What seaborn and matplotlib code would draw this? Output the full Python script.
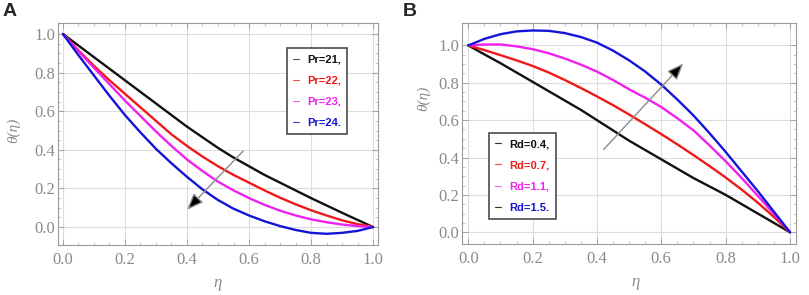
import numpy as np
import pandas as pd
import matplotlib
matplotlib.use("Agg")
import matplotlib.pyplot as plt
import seaborn as sns
from matplotlib.lines import Line2D

# ---------------- data ----------------
eta = [0.00, 0.05, 0.10, 0.15, 0.20, 0.25, 0.30, 0.35, 0.40, 0.45, 0.50,
       0.55, 0.60, 0.65, 0.70, 0.75, 0.80, 0.85, 0.90, 0.95, 1.00]

# Panel A : Pr variation
pr_labels = ["Pr=21,", "Pr=22,", "Pr=23,", "Pr=24."]
pr21 = [1.0, 0.94, 0.88, 0.82, 0.76, 0.70, 0.64, 0.58, 0.52, 0.465, 0.41,
        0.36, 0.315, 0.27, 0.23, 0.19, 0.15, 0.112, 0.074, 0.037, 0.0]
pr22 = [1.0, 0.915, 0.835, 0.76, 0.69, 0.62, 0.55, 0.48, 0.42, 0.365, 0.315,
        0.27, 0.23, 0.19, 0.152, 0.118, 0.087, 0.06, 0.035, 0.015, 0.0]
pr23 = [1.0, 0.91, 0.825, 0.74, 0.655, 0.575, 0.495, 0.42, 0.35, 0.29, 0.235,
        0.19, 0.15, 0.115, 0.085, 0.06, 0.04, 0.025, 0.013, 0.005, 0.0]
pr24 = [1.0, 0.89, 0.785, 0.68, 0.58, 0.49, 0.405, 0.33, 0.26, 0.195, 0.14,
        0.095, 0.06, 0.03, 0.005, -0.015, -0.03, -0.035, -0.03, -0.02, 0.0]

# Panel B : Rd variation
rd_labels = ["Rd=0.4,", "Rd=0.7,", "Rd=1.1,", "Rd=1.5."]
rd04 = [1.0, 0.952, 0.905, 0.855, 0.805, 0.755, 0.705, 0.655, 0.60, 0.545, 0.49,
        0.44, 0.39, 0.34, 0.29, 0.245, 0.20, 0.15, 0.10, 0.05, 0.0]
rd07 = [1.0, 0.975, 0.948, 0.92, 0.89, 0.855, 0.815, 0.772, 0.727, 0.68, 0.63,
        0.578, 0.525, 0.47, 0.413, 0.354, 0.293, 0.228, 0.158, 0.082, 0.0]
rd11 = [1.0, 1.005, 1.005, 0.995, 0.98, 0.958, 0.93, 0.897, 0.86, 0.815, 0.765,
        0.72, 0.67, 0.61, 0.545, 0.465, 0.38, 0.29, 0.195, 0.098, 0.0]
rd15 = [1.0, 1.035, 1.06, 1.075, 1.08, 1.078, 1.066, 1.045, 1.015, 0.972, 0.92,
        0.86, 0.79, 0.71, 0.625, 0.53, 0.43, 0.325, 0.22, 0.11, 0.0]

ticks = [0.0, 0.2, 0.4, 0.6, 0.8, 1.0]
tick_labels = ["0.0", "0.2", "0.4", "0.6", "0.8", "1.0"]

# ---------------- style ----------------
sns.set_style("whitegrid", {
    "grid.color": "#dcdcdc",
    "axes.edgecolor": "#9a9a9a",
    "xtick.direction": "in",
    "ytick.direction": "in",
})
plt.rcParams["font.family"] = ["Liberation Serif", "DejaVu Serif"]

colors = ["#111111", "#f01818", "#f020f0", "#1414d8"]
tick_gray = "#8a8a8a"

fig = plt.figure(figsize=(8.09, 2.95), dpi=100)
axA = fig.add_axes([58 / 809, 1 - 245 / 295, 320 / 809, 222 / 295])
axB = fig.add_axes([461.7 / 809, 1 - 244 / 295, 334.3 / 809, 221 / 295])


def build(series, labels):
    frames = []
    for s, l in zip(series, labels):
        frames.append(pd.DataFrame({"eta": eta, "theta": s, "lab": l}))
    return pd.concat(frames, ignore_index=True)


dfA = build([pr21, pr22, pr23, pr24], pr_labels)
dfB = build([rd04, rd07, rd11, rd15], rd_labels)

for ax, df, labels in [(axA, dfA, pr_labels), (axB, dfB, rd_labels)]:
    sns.lineplot(data=df, x="eta", y="theta", hue="lab", hue_order=labels,
                 palette=colors, linewidth=1.7, legend=False, ax=ax,
                 sort=False)
    ax.set_xticks(ticks)
    ax.set_xticklabels(tick_labels)
    ax.set_yticks(ticks)
    ax.set_yticklabels(tick_labels)
    ax.set_xticks(np.arange(0, 1.0001, 0.05), minor=True)
    ax.set_yticks(np.arange(0, 1.0001, 0.05), minor=True)
    ax.grid(True, which="major", color="#dcdcdc", linewidth=0.8)
    ax.grid(False, which="minor")
    ax.tick_params(which="major", direction="in", length=4, width=0.6,
                   color="#9a9a9a", labelcolor=tick_gray, labelsize=12,
                   top=True, right=True, bottom=True, left=True)
    ax.tick_params(which="minor", direction="in", length=2, width=0.5,
                   color="#b0b0b0", top=True, right=True, bottom=True, left=True)
    ax.tick_params(axis="x", pad=5)
    ax.tick_params(axis="y", pad=2)
    for sp in ax.spines.values():
        sp.set_color("#9a9a9a")
        sp.set_linewidth(0.8)
    ax.set_xlabel("η", fontsize=12, color=tick_gray, style="italic")
    ax.set_ylabel("θ(η)", fontsize=11, color=tick_gray, style="italic")

axA.set_xlim(-0.016, 1.016)
axA.set_ylim(-0.093, 1.057)
axB.set_xlim(-0.0205, 1.0187)
axB.set_ylim(-0.063, 1.12)

axA.xaxis.set_label_coords(0.497, -0.135)
axB.xaxis.set_label_coords(0.52, -0.135)
axA.yaxis.set_label_coords(-0.117, 0.518)
axB.yaxis.set_label_coords(-0.095, 0.658)

# arrows
arrow_style = dict(arrowstyle="-|>,head_length=1.0,head_width=0.4",
                   ec="#8c8c8c", fc="black", lw=1.0)
axA.annotate("", xy=(0.394, 0.079), xytext=(0.587, 0.404), arrowprops=arrow_style)
axB.annotate("", xy=(0.674, 0.914), xytext=(0.415, 0.432), arrowprops=arrow_style)

# legends
legend_font = {"family": ["Liberation Sans", "DejaVu Sans"], "weight": "bold",
               "size": 8}
leg_kw = dict(loc="upper left", prop=legend_font, labelcolor=colors,
              frameon=True, fancybox=False, edgecolor="#4a4a4a", framealpha=1,
              handlelength=0.5, handletextpad=0.75, labelspacing=1.0,
              borderpad=0.55, borderaxespad=0)

hA = [Line2D([], [], color=c, lw=0.8) for c in ["#555555", "#f05050", "#f060f0", "#4040d0"]]
legA = axA.legend(hA, pr_labels, bbox_to_anchor=(0.7166, 0.886), **leg_kw)
legA.get_frame().set_linewidth(1.2)

hB = [Line2D([], [], color=c, lw=0.8) for c in ["#333333", "#f05050", "#f060f0", "#333333"]]
legB = axB.legend(hB, rd_labels, bbox_to_anchor=(0.0826, 0.502), **leg_kw)
legB.get_frame().set_linewidth(1.2)

# panel labels
fig.text(3 / 809, 1 - 3 / 295, "A", fontsize=14, fontweight="bold",
         family=["Liberation Sans", "DejaVu Sans"], va="top", ha="left")
fig.text(403 / 809, 1 - 3 / 295, "B", fontsize=14, fontweight="bold",
         family=["Liberation Sans", "DejaVu Sans"], va="top", ha="left")

fig.savefig("out.png", dpi=100)
